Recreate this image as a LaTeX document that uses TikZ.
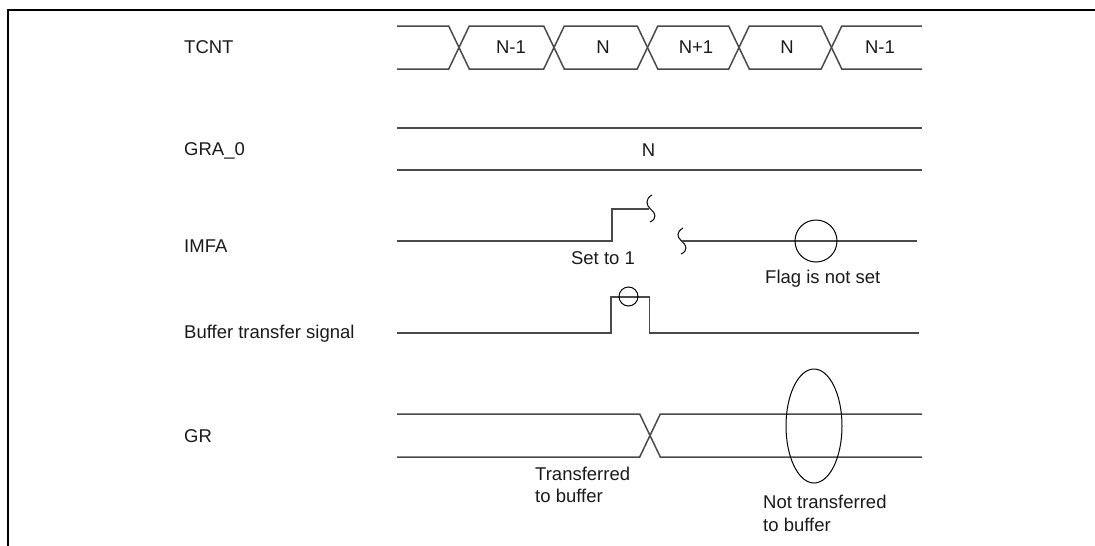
\documentclass[tikz,border=0pt]{standalone}
\usepackage{fontspec}
\setmainfont{Liberation Sans}
\usetikzlibrary{shapes.geometric}
\definecolor{sigcol}{HTML}{4A4A4A}
\definecolor{txtcol}{HTML}{1A1A1A}
\begin{document}
\begin{tikzpicture}[x=1pt,y=1pt,
  sig/.style={draw=sigcol,line width=1.5pt,line join=miter},
  ring/.style={draw=black,line width=1pt},
  frame/.style={draw=black,line width=2pt},
  lbl/.style={anchor=west,inner sep=0pt,text=txtcol,font=\fontsize{18.5}{22.5}\selectfont},
  val/.style={inner sep=0pt,text=txtcol,font=\fontsize{18.5}{22.5}\selectfont},
  note/.style={anchor=north west,inner sep=0pt,align=left,text=txtcol,font=\fontsize{18.5}{22.5}\selectfont}]
\useasboundingbox (0,-546) rectangle (1095,0);
% frame
\draw[frame] (1095,-10) -- (8,-10) -- (8,-546);
% signal names
\node[lbl] (nTCNT) at (184,-47.5) {TCNT};
\node[lbl] (nGRA) at (184,-151) {GRA\_0};
\node[lbl] (nIMFA) at (184,-246) {IMFA};
\node[lbl] (nBUF) at (184,-334) {Buffer transfer signal};
\node[lbl] (nGR) at (184,-436) {GR};
% TCNT bus
\def\xS{397}\def\xE{922}\def\yT{-26}\def\yB{-69}\def\hW{10.3}
\def\cA{459}\def\cB{554}\def\cC{647.5}\def\cD{739}\def\cE{831.5}
\draw[sig] (\xS,\yT) -- (\cA-\hW,\yT) -- (\cA+\hW,\yB) -- (\cB-\hW,\yB) -- (\cB+\hW,\yT) -- (\cC-\hW,\yT) -- (\cC+\hW,\yB) -- (\cD-\hW,\yB) -- (\cD+\hW,\yT) -- (\cE-\hW,\yT) -- (\cE+\hW,\yB) -- (\xE,\yB);
\draw[sig] (\xS,\yB) -- (\cA-\hW,\yB) -- (\cA+\hW,\yT) -- (\cB-\hW,\yT) -- (\cB+\hW,\yB) -- (\cC-\hW,\yB) -- (\cC+\hW,\yT) -- (\cD-\hW,\yT) -- (\cD+\hW,\yB) -- (\cE-\hW,\yB) -- (\cE+\hW,\yT) -- (\xE,\yT);
\node[val] (v1) at (511,-47.5) {N-1};
\node[val] (v2) at (603,-47.5) {N};
\node[val] (v3) at (696,-47.5) {N+1};
\node[val] (v4) at (787,-47.5) {N};
\node[val] (v5) at (880,-47.5) {N-1};
% GRA_0
\draw[sig] (397,-128) -- (922,-128);
\draw[sig] (397,-170) -- (922,-170);
\node[val] (g1) at (648.5,-150) {N};
% IMFA
\draw[sig] (397,-241) -- (612,-241) -- (612,-209) -- (649,-209);
\draw[ring] (652,-195) .. controls (645,-199) and (646,-205) .. (650.5,-209) .. controls (656,-213) and (657,-219) .. (650,-222);
\draw[ring] (683,-228) .. controls (676,-232) and (677,-237) .. (681.5,-241) .. controls (687,-245) and (688,-251) .. (681,-254);
\draw[sig] (682,-241) -- (917,-241);
\node[ring,circle,minimum size=42pt,inner sep=0pt] (flagc) at (816,-241) {};
\node[val] (set1) at (603,-258) {Set to 1};
\node[val,anchor=west] (flagt) at (765,-279) {Flag is not set};
% Buffer transfer signal
\draw[sig] (397,-333) -- (611,-333) -- (611,-297) -- (649.5,-297) -- (649.5,-333) -- (919,-333);
\node[ring,circle,minimum size=19pt,inner sep=0pt] (bufc) at (628.5,-296.5) {};
% GR
\draw[sig] (397,-414) -- (639.7,-414) -- (660.3,-457) -- (922,-457);
\draw[sig] (397,-457) -- (639.7,-457) -- (660.3,-414) -- (922,-414);
\node[ring,ellipse,minimum width=56pt,minimum height=114pt,inner sep=0pt] (gre) at (814,-426) {};
\node[note] (tr) at (535,-466.5) {Transferred\\to buffer};
\node[note] (ntr) at (763,-495) {Not transferred\\to buffer};
\end{tikzpicture}
\end{document}
